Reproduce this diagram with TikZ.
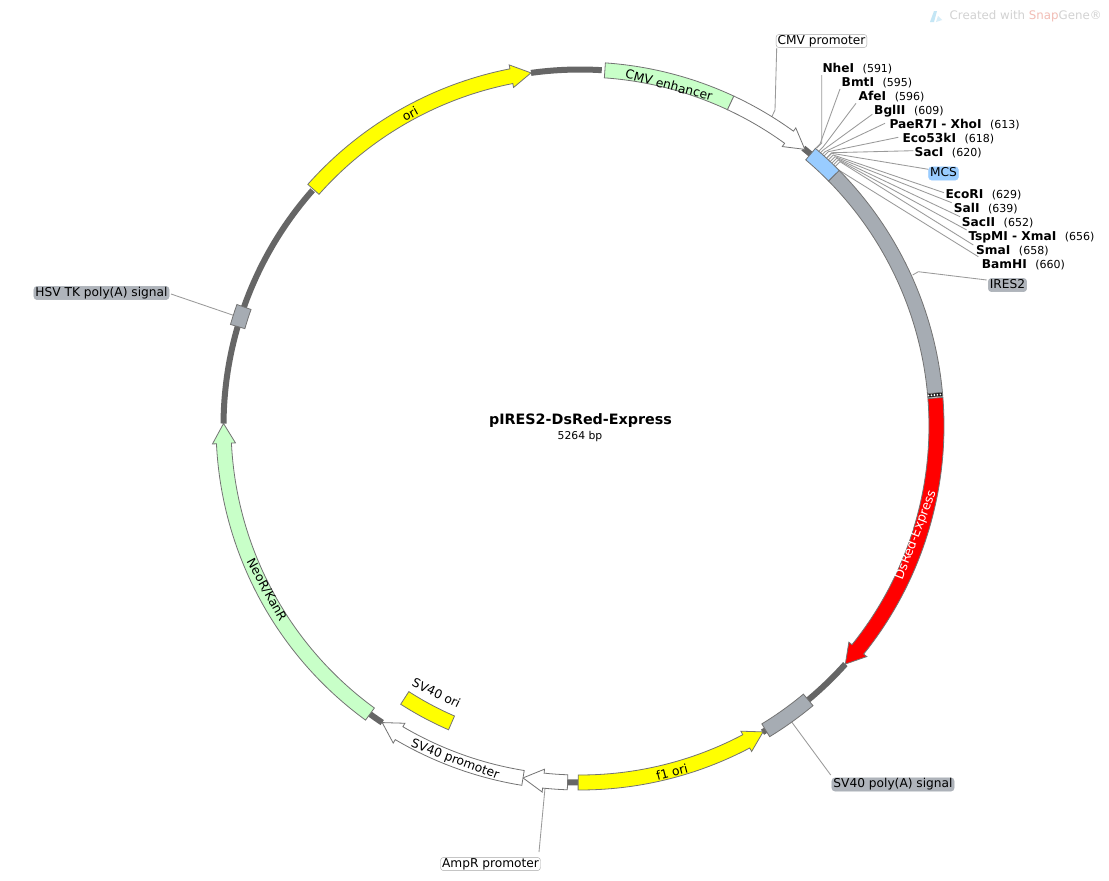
\documentclass[tikz,border=0pt]{standalone}
\usepackage{fontspec}
\setmainfont{DejaVu Sans}
\usetikzlibrary{calc}
\definecolor{backbone}{HTML}{666666}
\definecolor{edgecol}{HTML}{737373}
\definecolor{leadercol}{HTML}{9A9A9A}
\definecolor{fgreen}{HTML}{C8FFC8}
\definecolor{fgrey}{HTML}{A6ACB3}
\definecolor{fblue}{HTML}{99CCFF}
\definecolor{fyellow}{HTML}{FFFF00}
\definecolor{fred}{HTML}{FF0000}
\definecolor{wmgrey}{HTML}{D2D2D2}
\definecolor{wmpink}{HTML}{F2BDB5}
\definecolor{wmblue}{HTML}{C4E6F5}
\def\Rm{356.5pt}
\def\Ri{349pt}
\def\Ro{364pt}
\def\Hi{345pt}
\def\Ho{368pt}
\newcommand{\arcbar}[3]{%
  \draw[feature,fill=#1] (#2:\Ri) arc[start angle=#2,end angle=#3,radius=\Ri]
    -- (#3:\Ro) arc[start angle=#3,end angle=#2,radius=\Ro] -- cycle;}
\newcommand{\arrowbar}[4]{%
  \draw[feature,fill=#1] (#2:\Ri) arc[start angle=#2,end angle=#3,radius=\Ri]
    -- (#3:\Hi) -- (#4:\Rm) -- (#3:\Ho) -- (#3:\Ro)
    arc[start angle=#3,end angle=#2,radius=\Ro] -- cycle;}
\newcommand{\bbone}[2]{%
  \draw[bbline] (#1:\Rm) arc[start angle=#1,end angle=#2,radius=\Rm];}
% id, name, position, x, y, leader end x, y, elbow x, y
\newcommand{\enz}[9]{%
  \node[enzlab] (#1) at (#4,#5) {\textbf{#2}\hspace{8.5pt}{\fontsize{11}{13}\selectfont(#3)}};
  \coordinate (#1-end) at (#6,#7);
  \coordinate (#1-elb) at (#8,#9);
  \draw[leader] (#1-end) -- (#1-elb) -- ++(-5,5);}
\tikzset{
  feature/.style={draw=edgecol,line width=0.8pt},
  bbline/.style={draw=backbone,line width=6pt},
  leader/.style={draw=leadercol,line width=0.85pt},
  enzlab/.style={anchor=west,inner sep=0pt,text height=11pt,text depth=1.5pt,font=\fontsize{12.2}{14}\selectfont},
  flab/.style={inner sep=0pt,font=\fontsize{12.3}{14}\selectfont},
  callout/.style={rounded corners=3pt,draw=#1,inner xsep=1.5pt,inner ysep=0pt,text height=10pt,text depth=3.2pt,font=\fontsize{12.2}{14}\selectfont},
  whitebox/.style={callout=gray!70,fill=white},
  greybox/.style={callout=fgrey,fill=fgrey!90!white},
  bluebox/.style={callout=fblue,fill=fblue},
}
\begin{document}
\begin{tikzpicture}[x=1pt,y=-1pt]
\useasboundingbox (0,0) rectangle (1109,881);
\fill[white] (0,0) rectangle (1109,881);

% watermark
\fill[wmblue] (930,22) -- (934,11) -- (937,11) -- (934,22) -- cycle;
\fill[wmblue!70!white] (936,22) -- (938,16) -- (942,20) -- cycle;
\node[inner sep=0pt,anchor=west,text=wmgrey,font=\fontsize{11.8}{14}\selectfont] (wm) at (949.5,16.5) {Created with \textcolor{wmpink}{Snap}Gene®};

% title
\node[inner sep=0pt,font=\fontsize{14.3}{18}\selectfont] (title) at (580.5,421) {\textbf{pIRES2-DsRed-Express}};
\node[inner sep=0pt,font=\fontsize{10.8}{13}\selectfont] (size) at (580,436.5) {5264 bp};

% enzyme sites
\enz{nhe}{NheI}{591}{822.3}{67.5}{821.7}{75}{821.7}{143}
\enz{bmt}{BmtI}{595}{841.5}{81.5}{840}{89}{820}{144}
\enz{afe}{AfeI}{596}{858.5}{95.5}{856}{103.3}{823.3}{146.7}
\enz{bgl}{BglII}{609}{874}{109.5}{872.3}{114.3}{823.3}{150}
\enz{pae}{PaeR7I - XhoI}{613}{889.3}{123.5}{885}{123.3}{825}{151.7}
\enz{eco}{Eco53kI}{618}{902.3}{137.5}{898.3}{137.3}{828.3}{151.7}
\enz{sac}{SacI}{620}{914.5}{151.5}{913.3}{150.7}{831.7}{152.7}
\enz{ecor}{EcoRI}{629}{945.3}{193.5}{944}{192.7}{833.3}{155}
\enz{sal}{SalI}{639}{953.7}{207.5}{951.7}{202.7}{835}{156.7}
\enz{sacii}{SacII}{652}{961.7}{221.5}{960}{216.7}{836.7}{158.3}
\enz{tsp}{TspMI - XmaI}{656}{968.3}{235.5}{966.7}{230}{838.3}{160}
\enz{sma}{SmaI}{658}{976}{249.5}{973.3}{245}{840}{161.7}
\enz{bam}{BamHI}{660}{981.7}{263.5}{978.3}{256.7}{833.3}{166.7}

% callout labels
\node[whitebox] (cmvp) at (821.5,41) {CMV promoter};
\node[bluebox] (mcs) at (943.5,173.5) {MCS};
\node[greybox] (ires) at (1007.5,285) {IRES2};
\node[greybox] (hsv) at (101.5,293) {HSV TK poly(A) signal};
\node[greybox] (sv40pa) at (893,784.5) {SV40 poly(A) signal};
\node[whitebox] (ampp) at (490.5,864) {AmpR promoter};

\coordinate (cmvp-a) at (776.7,48);
\coordinate (cmvp-b) at (775,110);
\coordinate (cmvp-c) at (771.7,117);
\draw[leader] (cmvp-a) -- (cmvp-b) -- (cmvp-c);
\coordinate (mcs-a) at (928.3,169.3);
\coordinate (mcs-b) at (831.7,153.3);
\draw[leader] (mcs-a) -- (mcs-b) -- ++(-5,5);
\coordinate (ires-a) at (986.7,280);
\coordinate (ires-b) at (918.3,271.7);
\coordinate (ires-c) at (912.7,275);
\draw[leader] (ires-a) -- (ires-b) -- (ires-c);
\coordinate (hsv-a) at (171,294);
\coordinate (hsv-b) at (234,315.5);
\draw[leader] (hsv-a) -- (hsv-b);
\coordinate (sv-a) at (830.7,775);
\coordinate (sv-b) at (791.7,722);
\draw[leader] (sv-a) -- (sv-b);
\coordinate (amp-a) at (539,852);
\coordinate (amp-b) at (545,788);
\draw[leader] (amp-a) -- (amp-b);

\begin{scope}[shift={(580,426)}]
  % backbone
  \bbone{86.5}{97.9}
  \bbone{49.5}{51.2}
  \bbone{-41.9}{-51}
  \bbone{-58}{-59.2}
  \bbone{-90}{-92.2}
  \bbone{-123.7}{-126.5}
  \bbone{138.6}{179.6}

  % features
  \arrowbar{fyellow}{138.4}{101.1}{97.9}
  \arcbar{fgreen}{86}{65}
  \arrowbar{white}{65}{54.1}{50.9}
  \arcbar{fgrey}{44.6}{5.2}
  \draw[feature,fill=black] (5.3:\Ri) arc[start angle=5.3,end angle=4.7,radius=\Ri] -- (4.7:\Ro) arc[start angle=4.7,end angle=5.3,radius=\Ro] -- cycle;
  \draw[white,line width=1.6pt,dash pattern=on 1.6pt off 1.4pt] (5:\Ri) -- (5:\Ro);
  \arrowbar{fred}{4.5}{-38.8}{-41.9}
  \arcbar{fgrey}{-50.2}{-58.6}
  \arrowbar{fyellow}{-90.3}{-62.2}{-59.1}
  \arrowbar{white}{-92}{-95.9}{-99.2}
  \arrowbar{white}{-99.2}{-120.5}{-123.7}
  \arrowbar{fgreen}{-126.1}{-177.2}{-180.4}
  \arcbar{fgrey}{160.5}{163.8}
  \arcbar{fblue}{49.7}{44.6}
  % SV40 ori, set apart on the inner track
  \draw[feature,fill=fyellow] (-122.8:316pt) arc[start angle=-122.8,end angle=-113.4,radius=316pt]
    -- (-113.4:331pt) arc[start angle=-113.4,end angle=-122.8,radius=331pt] -- cycle;
\end{scope}

% labels on features
\node[flab,rotate=28.6] (lori) at (410,114) {ori};
\node[flab,rotate=-15] (lcmve) at (669,85) {CMV enhancer};
\node[flab,rotate=69,text=white,font=\fontsize{12.6}{15}\selectfont] (lds) at (916,535) {DsRed-Express};
\node[flab,rotate=15] (lf1) at (672,772) {f1 ori};
\node[flab,rotate=-20.5] (lsvp) at (455,760) {SV40 promoter};
\node[flab,rotate=-26] (lsvo) at (436.5,693) {SV40 ori};
\node[flab,rotate=-61] (lneo) at (266.5,590) {NeoR/KanR};
\end{tikzpicture}
\end{document}
